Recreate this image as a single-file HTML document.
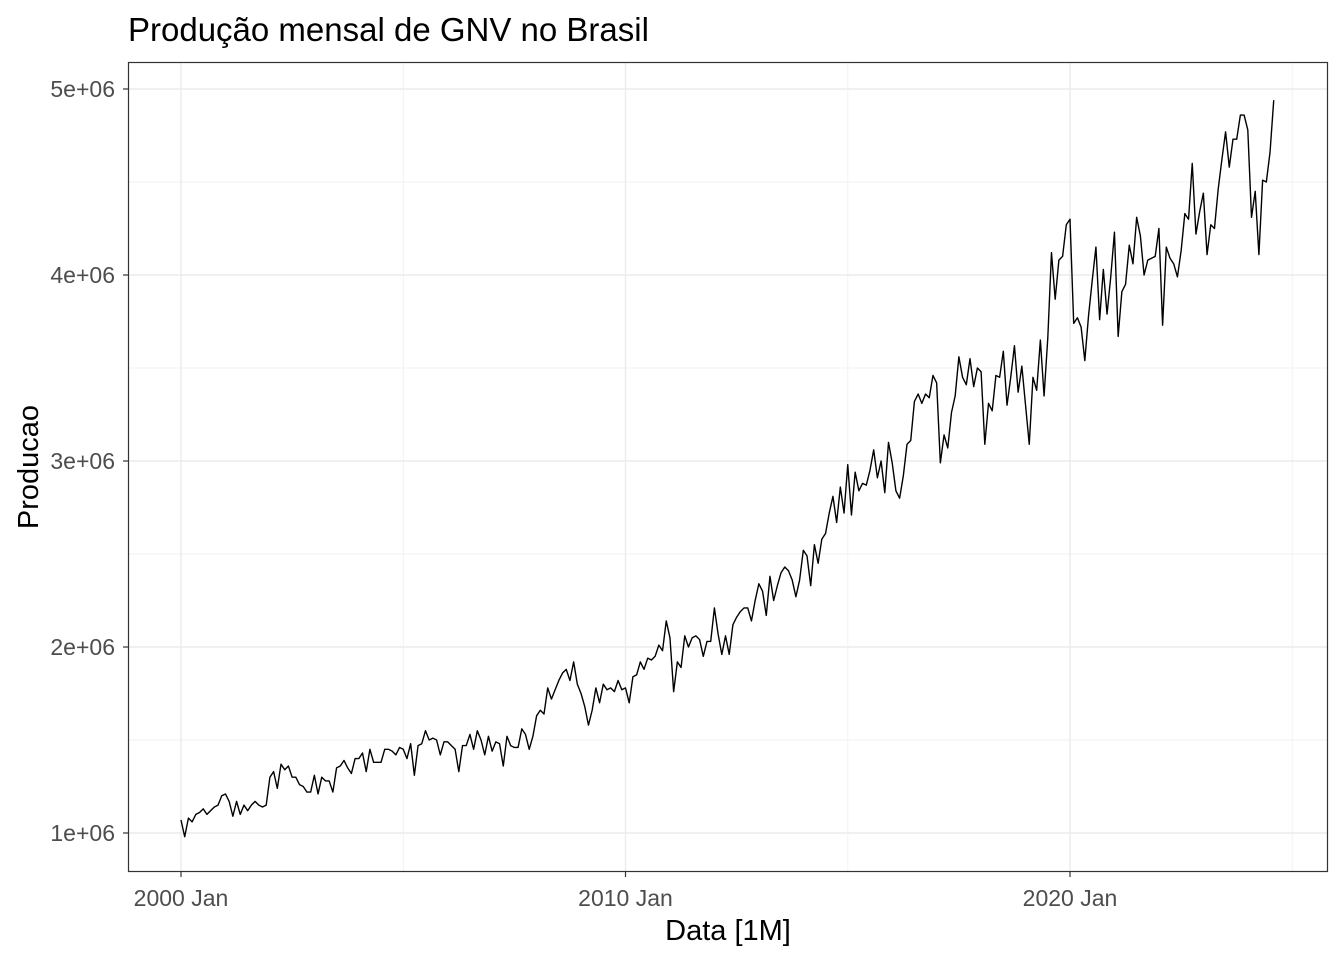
<!DOCTYPE html>
<html><head><meta charset="utf-8"><style>
html,body{margin:0;padding:0;background:#fff;}
svg{display:block;font-family:"Liberation Sans",Arial,sans-serif;}
</style></head><body>
<svg id="chart" width="1344" height="960">
<text x="128" y="41" font-size="33" fill="#000">Produção mensal de GNV no Brasil</text>
<g id="grid"></g>
<rect x="128.5" y="62.5" width="1199" height="809" fill="none" stroke="#333" stroke-width="1.2"/>
<g id="axes"></g>
<path id="line" fill="none" stroke="#000" stroke-width="1.4" stroke-linejoin="round"/>
<text x="728" y="940" font-size="29" text-anchor="middle" fill="#000">Data [1M]</text>
<text transform="translate(38,467) rotate(-90)" font-size="29" text-anchor="middle" fill="#000">Producao</text>
</svg>
<script>
const startYear = 2000;
const values = [
1.07,0.98,1.08,1.06,1.10,1.11,1.13,1.10,1.12,1.14,1.15,1.20,
1.21,1.17,1.09,1.17,1.10,1.15,1.12,1.15,1.17,1.15,1.14,1.15,
1.30,1.33,1.24,1.37,1.34,1.36,1.30,1.30,1.26,1.25,1.22,1.22,
1.31,1.21,1.30,1.28,1.28,1.22,1.35,1.36,1.39,1.35,1.32,1.40,
1.40,1.43,1.33,1.45,1.38,1.38,1.38,1.45,1.45,1.44,1.42,1.46,
1.45,1.40,1.48,1.31,1.47,1.48,1.55,1.50,1.51,1.50,1.42,1.49,
1.49,1.47,1.45,1.33,1.47,1.47,1.53,1.45,1.55,1.50,1.42,1.52,
1.44,1.49,1.48,1.36,1.52,1.47,1.46,1.46,1.56,1.53,1.45,1.52,
1.63,1.66,1.64,1.78,1.72,1.77,1.82,1.86,1.88,1.82,1.92,1.80,
1.75,1.68,1.58,1.66,1.78,1.70,1.80,1.77,1.78,1.76,1.82,1.77,
1.78,1.70,1.84,1.85,1.92,1.88,1.94,1.93,1.95,2.01,1.98,2.14,
2.05,1.76,1.92,1.89,2.06,2.00,2.05,2.06,2.04,1.95,2.03,2.03,
2.21,2.07,1.96,2.06,1.96,2.12,2.16,2.19,2.21,2.21,2.14,2.25,
2.34,2.30,2.17,2.38,2.25,2.33,2.40,2.43,2.41,2.36,2.27,2.36,
2.52,2.49,2.33,2.55,2.45,2.58,2.61,2.72,2.81,2.67,2.86,2.72,
2.98,2.71,2.94,2.84,2.88,2.87,2.95,3.06,2.91,3.00,2.83,3.10,
2.99,2.84,2.80,2.92,3.09,3.11,3.32,3.36,3.31,3.36,3.34,3.46,
3.42,2.99,3.14,3.07,3.26,3.35,3.56,3.45,3.41,3.55,3.40,3.50,
3.48,3.09,3.31,3.27,3.46,3.45,3.59,3.30,3.45,3.62,3.37,3.51,
3.30,3.09,3.45,3.38,3.65,3.35,3.66,4.12,3.87,4.08,4.10,4.27,
4.30,3.74,3.77,3.72,3.54,3.78,3.97,4.15,3.76,4.03,3.79,3.99,
4.23,3.67,3.91,3.95,4.16,4.06,4.31,4.21,4.00,4.08,4.09,4.10,
4.25,3.73,4.15,4.09,4.06,3.99,4.13,4.33,4.30,4.60,4.22,4.34,
4.44,4.11,4.27,4.25,4.46,4.62,4.77,4.58,4.73,4.73,4.86,4.86,
4.78,4.31,4.45,4.11,4.51,4.50,4.66,4.94
];
const yTicks = [1,2,3,4,5];
const yTickLabels = ["1e+06","2e+06","3e+06","4e+06","5e+06"];
const xTickYears = [2000,2010,2020];
const xTickLabels = ["2000 Jan","2010 Jan","2020 Jan"];

const ns = "http://www.w3.org/2000/svg";
function xScale(monthIdx){ return 181 + monthIdx * (444.5/120); }
function yScale(v){ return 833 - (v - 1) * 186; }
function mk(tag, attrs, parent){ const e=document.createElementNS(ns,tag); for(const k in attrs) e.setAttribute(k,attrs[k]); parent.appendChild(e); return e; }

const grid = document.getElementById('grid');
const axes = document.getElementById('axes');
for (let i=0;i<yTicks.length-1;i++){
  const yy = yScale((yTicks[i]+yTicks[i+1])/2);
  const l = mk('line',{x1:129,x2:1327,y1:yy,y2:yy,stroke:'#f2f2f2','stroke-width':1},grid);
  
  
}
for (let i=0;i<xTickYears.length;i++){
  const xx = xScale((xTickYears[i]-startYear)*12 + 60);
  const l = mk('line',{x1:xx,x2:xx,y1:63,y2:871,stroke:'#f2f2f2','stroke-width':1},grid);
  
  
}
yTicks.forEach((t,i)=>{
  const yy = yScale(t);
  const l = mk('line',{x1:129,x2:1327,y1:yy,y2:yy,stroke:'#ebebeb','stroke-width':1.4},grid);
  
  
  const tk = mk('line',{x1:123,x2:128,y1:yy,y2:yy,stroke:'#333','stroke-width':1.2},axes);
  
  
  const tx = mk('text',{x:115,y:yy+8,'font-size':23,'text-anchor':'end',fill:'#4d4d4d'},axes);
  tx.textContent = yTickLabels[i];
  
  
});
xTickYears.forEach((yr,i)=>{
  const xx = xScale((yr-startYear)*12);
  const l = mk('line',{x1:xx,x2:xx,y1:63,y2:871,stroke:'#ebebeb','stroke-width':1.4},grid);
  
  
  const tk = mk('line',{x1:xx,x2:xx,y1:872,y2:877,stroke:'#333','stroke-width':1.2},axes);
  
  
  const tx = mk('text',{x:xx,y:906,'font-size':23,'text-anchor':'middle',fill:'#4d4d4d'},axes);
  tx.textContent = xTickLabels[i];
  
  
});
let d = "";
values.forEach((v,i)=>{ d += (i?"L":"M") + xScale(i).toFixed(2) + "," + yScale(v).toFixed(2); });
document.getElementById('line').setAttribute('d', d);
</script>
</body></html>
